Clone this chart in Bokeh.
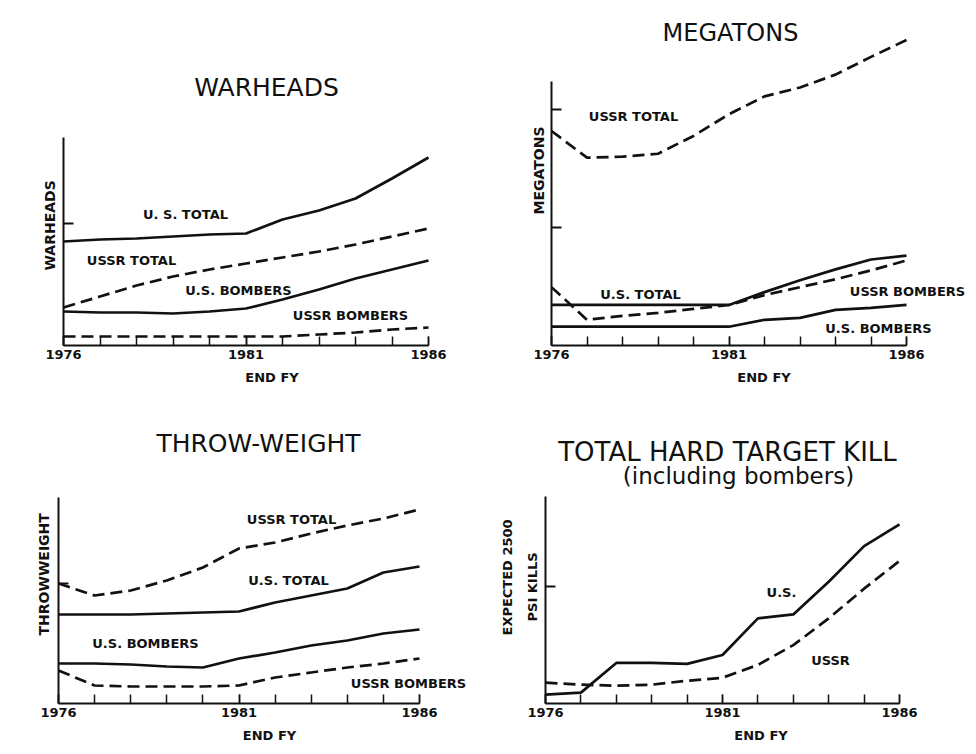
from bokeh.plotting import figure
from bokeh.models import Label, FixedTicker, Range1d, Title
from bokeh.layouts import row, column
from bokeh.embed import file_html
from bokeh.resources import INLINE

# ---------------- data (relative units) ----------------
years = [1976, 1977, 1978, 1979, 1980, 1981, 1982, 1983, 1984, 1985, 1986]
tick_years = [1976, 1981, 1986]
tick_labels = {1976: "1976", 1981: "1981", 1986: "1986"}

# WARHEADS
wh_us_total = [104, 106, 107, 109, 111, 112, 126, 135, 147, 167, 188]
wh_ussr_total = [38, 49, 60, 69, 76, 82, 88, 94, 101, 109, 117]
wh_us_bombers = [34, 33, 33, 32, 34, 37, 46, 56, 67, 76, 85]
wh_ussr_bombers = [9, 9, 9, 9, 9, 9, 9, 11, 13, 16, 18]

# MEGATONS
mt_ussr_total = [217, 190, 191, 194, 212, 234, 252, 261, 274, 292, 309]
mt_us_total = [41, 41, 41, 41, 41, 41, 54, 66, 77, 87, 91]
mt_ussr_bombers = [59, 26, 30, 33, 37, 41, 51, 59, 67, 76, 86]
mt_us_bombers = [19, 19, 19, 19, 19, 19, 26, 28, 36, 38, 41]

# THROW-WEIGHT
tw_ussr_total = [120, 108, 113, 123, 136, 155, 161, 170, 178, 185, 194]
tw_us_total = [89, 89, 89, 90, 91, 92, 101, 108, 115, 131, 137]
tw_us_bombers = [40, 40, 39, 37, 36, 45, 51, 58, 63, 70, 74]
tw_ussr_bombers = [33, 18, 17, 17, 17, 18, 26, 31, 36, 40, 45]

# TOTAL HARD TARGET KILL
hk_us = [9, 11, 41, 41, 40, 49, 86, 90, 123, 159, 181]
hk_ussr = [21, 19, 18, 19, 23, 26, 39, 59, 86, 116, 144]

INK = "#111111"
FONT = "DejaVu Sans"


def panel(ox, oy, w, h, fl, fb, ppy, ytop, ytick):
    """ox, oy: page origin of the figure; fl, fb: page x of the y axis and page y of the x axis."""
    left = fl - ox
    bottom = oy + h - fb
    xend = 1976 + (w - left) / ppy
    yend = fb - oy
    p = figure(width=w, height=h, x_range=Range1d(1976, xend), y_range=Range1d(0, yend),
               output_backend="svg", toolbar_location=None,
               min_border_left=left, min_border_right=0,
               min_border_top=0, min_border_bottom=bottom)
    p.outline_line_color = None
    p.grid.visible = False
    p.background_fill_color = "white"
    p.border_fill_color = "white"
    xa = p.xaxis[0]
    xa.bounds = (1976, 1986)
    xa.ticker = FixedTicker(ticks=tick_years, minor_ticks=years)
    xa.major_label_overrides = tick_labels
    xa.major_tick_in = 9
    xa.major_tick_out = 0
    xa.minor_tick_in = 9
    xa.minor_tick_out = 0
    xa.major_tick_line_width = 1.5
    xa.minor_tick_line_width = 1.5
    xa.major_tick_line_color = INK
    xa.minor_tick_line_color = INK
    xa.axis_line_width = 2
    xa.axis_line_color = INK
    xa.major_label_text_font = FONT
    xa.major_label_text_font_style = "bold"
    xa.major_label_text_font_size = "13px"
    xa.major_label_text_color = INK
    xa.major_label_standoff = 4
    xa.axis_label = "END FY"
    xa.axis_label_text_font = FONT
    xa.axis_label_text_font_style = "bold"
    xa.axis_label_text_font_size = "13px"
    xa.axis_label_text_color = INK
    xa.axis_label_standoff = 8
    ya = p.yaxis[0]
    ya.bounds = (0, ytop)
    ya.ticker = FixedTicker(ticks=ytick)
    ya.major_label_overrides = {t: "" for t in ytick}
    ya.major_label_standoff = 0
    ya.major_tick_in = 10
    ya.major_tick_out = 0
    ya.minor_tick_in = 0
    ya.minor_tick_out = 0
    ya.major_tick_line_width = 2
    ya.major_tick_line_color = INK
    ya.axis_line_width = 2
    ya.axis_line_color = INK
    return p


def ylabel(p, text, offset, standoff, size=14):
    p.add_layout(Title(text=text, align="left", offset=offset, standoff=standoff,
                       text_font=FONT, text_font_style="bold",
                       text_font_size=f"{size}px", text_color=INK), "left")


def frame_map(fl, ppy, fb):
    def f(px, py):
        return 1976 + (px - fl) / ppy, fb - py
    return f


def txt(p, m, px, py, text, size, bold=False):
    x, y = m(px, py)
    p.add_layout(Label(x=x, y=y, text=text, text_font=FONT, text_font_size=f"{size}px",
                       text_font_style="bold" if bold else "normal", text_color=INK,
                       text_align="center", text_baseline="middle"))


def solid(p, ys):
    p.line(years, ys, line_color=INK, line_width=2.7)


def dashed(p, ys):
    p.line(years, ys, line_color=INK, line_width=2.7, line_dash="12 6")


# ---------------- WARHEADS ----------------
p1 = panel(0, 0, 480, 410, 63, 345, 36.5, 208, [122])
m1 = frame_map(63, 36.5, 345)
solid(p1, wh_us_total)
dashed(p1, wh_ussr_total)
solid(p1, wh_us_bombers)
dashed(p1, wh_ussr_bombers)
ylabel(p1, "WARHEADS", 75, 12)
txt(p1, m1, 266, 87, "WARHEADS", 25)
txt(p1, m1, 185, 214, "U. S. TOTAL", 13, bold=True)
txt(p1, m1, 131, 260, "USSR TOTAL", 13, bold=True)
txt(p1, m1, 238, 290, "U.S. BOMBERS", 13, bold=True)
txt(p1, m1, 350, 315, "USSR BOMBERS", 13, bold=True)

# ---------------- MEGATONS ----------------
p2 = panel(480, 0, 496, 410, 551, 349, 35.5, 267, [119, 239])
m2 = frame_map(551, 35.5, 349)
dashed(p2, mt_ussr_total)
solid(p2, mt_us_total)
dashed(p2, mt_ussr_bombers)
solid(p2, mt_us_bombers)
ylabel(p2, "MEGATONS", 131, 10)
txt(p2, m2, 730, 33, "MEGATONS", 24)
txt(p2, m2, 633, 117, "USSR TOTAL", 13, bold=True)
txt(p2, m2, 640, 297, "U.S. TOTAL", 13, bold=True)
txt(p2, m2, 907, 294, "USSR BOMBERS", 13, bold=True)
txt(p2, m2, 878, 332, "U.S. BOMBERS", 13, bold=True)

# ---------------- THROW-WEIGHT ----------------
p3 = panel(0, 410, 480, 344, 58, 703, 36.1, 206, [120])
m3 = frame_map(58, 36.1, 703)
dashed(p3, tw_ussr_total)
solid(p3, tw_us_total)
solid(p3, tw_us_bombers)
dashed(p3, tw_ussr_bombers)
ylabel(p3, "THROWWEIGHT", 68, 13)
txt(p3, m3, 258, 443, "THROW-WEIGHT", 25)
txt(p3, m3, 291, 519, "USSR TOTAL", 13, bold=True)
txt(p3, m3, 288, 580, "U.S. TOTAL", 13, bold=True)
txt(p3, m3, 145, 643, "U.S. BOMBERS", 13, bold=True)
txt(p3, m3, 408, 683, "USSR BOMBERS", 13, bold=True)

# ---------------- TOTAL HARD TARGET KILL ----------------
p4 = panel(480, 410, 496, 344, 545, 706, 35.4, 209, [118])
m4 = frame_map(545, 35.4, 706)
solid(p4, hk_us)
dashed(p4, hk_ussr)
ylabel(p4, "PSI KILLS", 82, 11, 13)
ylabel(p4, "EXPECTED 2500", 68, 5, 13)
txt(p4, m4, 727, 452, "TOTAL HARD TARGET KILL", 26)
txt(p4, m4, 738, 476, "(including bombers)", 23)
txt(p4, m4, 781, 594, "U.S.", 13, bold=True)
txt(p4, m4, 830, 663, "USSR", 13, bold=True)

layout = column(row(p1, p2), row(p3, p4))
open("out.html", "w").write(file_html(layout, INLINE))
